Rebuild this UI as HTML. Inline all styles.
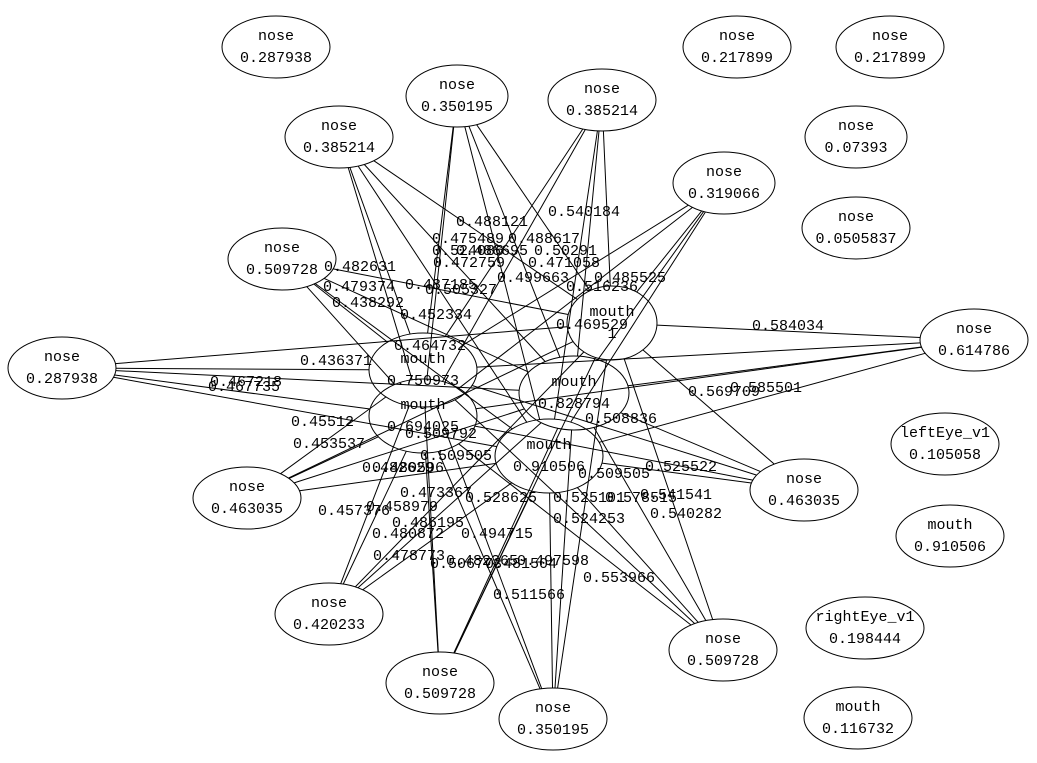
<!DOCTYPE html>
<html><head><meta charset="utf-8"><style>
html,body{margin:0;padding:0;background:#fff;}
svg{display:block}
text{font-family:"Liberation Mono","DejaVu Sans Mono",monospace;font-size:15px;fill:#000}
</style></head><body>
<svg id="s" width="1037" height="763" viewBox="0 0 1037 763" xmlns="http://www.w3.org/2000/svg"></svg>
<script>
const N=[
["nose","0.287938",276,47,54,31],
["nose","0.350195",457,96,51,31],
["nose","0.385214",602,100,54,31],
["nose","0.217899",737,47,54,31],
["nose","0.217899",890,47,54,31],
["nose","0.385214",339,137,54,31],
["nose","0.07393",856,137,51,31],
["nose","0.319066",724,183,51,31],
["nose","0.0505837",856,228,54,31],
["nose","0.509728",282,259,54,31],
["mouth","1",612,323,45,37],
["nose","0.614786",974,340,54,31],
["nose","0.287938",62,368,54,31],
["mouth","0.750973",423,370,54,37],
["mouth","0.828794",574,393,55,37],
["mouth","0.694025",423,416,54,37],
["mouth","0.910506",549,456,54,37],
["leftEye_v1","0.105058",945,444,54,31],
["nose","0.463035",804,490,54,31],
["nose","0.463035",247,498,54,31],
["mouth","0.910506",950,536,54,31],
["nose","0.420233",329,614,54,31],
["rightEye_v1","0.198444",865,628,59,31],
["nose","0.509728",723,650,54,31],
["nose","0.509728",440,683,54,31],
["nose","0.350195",553,719,54,31],
["mouth","0.116732",858,718,54,31]];
const s=document.getElementById('s');let h='';
function clip(a,b){const dx=b[2]-a[2],dy=b[3]-a[3];const t=1/Math.sqrt((dx*dx)/(a[4]*a[4])+(dy*dy)/(a[5]*a[5]));return [a[2]+dx*t,a[3]+dy*t];}
const mouths=[10,13,14,15,16];const noses=[1,2,5,7,9,11,12,18,19,21,23,24,25];
for(const n of noses)for(const m of mouths){const a=N[n],b=N[m];const p=clip(a,b),q=clip(b,a);
h+=`<line x1="${p[0].toFixed(1)}" y1="${p[1].toFixed(1)}" x2="${q[0].toFixed(1)}" y2="${q[1].toFixed(1)}" stroke="#000" stroke-width="1"/>`;}
for(const n of N){h+=`<ellipse cx="${n[2]}" cy="${n[3]}" rx="${n[4]}" ry="${n[5]}" fill="none" stroke="#000"/>`;
h+=`<text x="${n[2]}" y="${n[3]-7}" text-anchor="middle">${n[0]}</text><text x="${n[2]}" y="${n[3]+15}" text-anchor="middle">${n[1]}</text>`;}
const L=[["0.488121",456,226],["0.540184",548,216],["0.475489",432,243],["0.488617",508,243],["0.524086",432,255],["0.486695",456,255],["0.50291",534,255],["0.472759",433,267],["0.471058",528,267],["0.482631",324,271],["0.499663",497,282],["0.485525",594,282],["0.479374",323,291],["0.487185",405,289],["0.505327",425,294],["0.516236",566,291],["0.438292",332,307],["0.452334",400,319],["0.469529",556,329],["0.584034",752,330],["0.464732",394,350],["0.436371",300,365],["0.467218",210,386],["0.467735",208,391],["0.569709",688,396],["0.585501",730,392],["0.508836",585,423],["0.45512",291,426],["0.509792",405,438],["0.453537",293,448],["0.509505",420,460],["0.482629",362,472],["0.480596",372,472],["0.525522",645,471],["0.509505",578,478],["0.473367",400,497],["0.541541",640,499],["0.528625",465,502],["0.525101",553,502],["0.578515",605,502],["0.457376",318,515],["0.458979",366,511],["0.540282",650,518],["0.486195",392,527],["0.494715",461,538],["0.524253",553,523],["0.480872",372,538],["0.478773",373,560],["0.482365",446,565],["0.506773",430,568],["0.481504",485,568],["0.497598",517,565],["0.553966",583,582],["0.511566",493,599]];
for(const l of L)h+=`<text x="${l[1]}" y="${l[2]}">${l[0]}</text>`;
s.innerHTML=h;
</script>
</body></html>
